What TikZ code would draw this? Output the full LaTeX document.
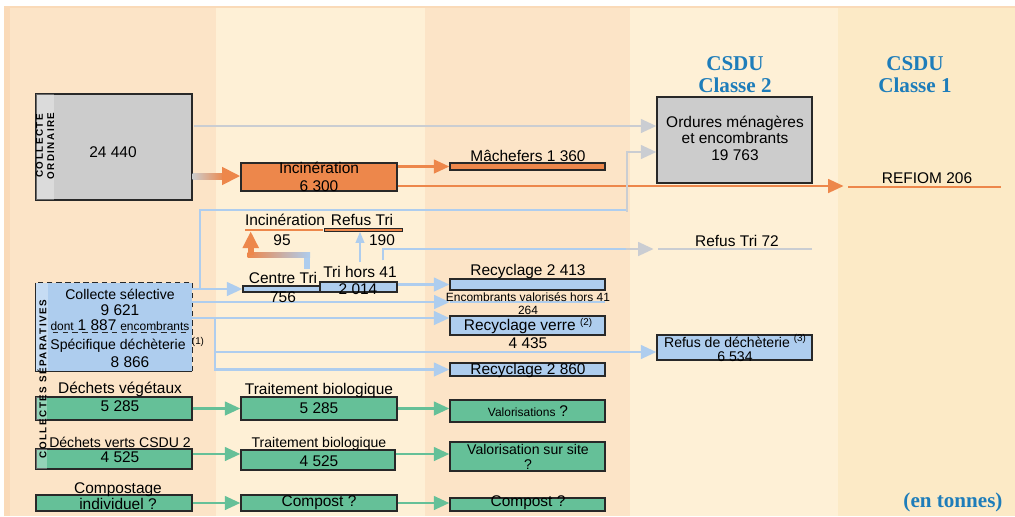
\documentclass[tikz,border=0pt]{standalone}
\usepackage{fontspec}
\setmainfont{Liberation Sans}
\newfontfamily\csdufont{Liberation Serif}
\newfontfamily\stripfont[LetterSpace=15]{Liberation Sans}
\usetikzlibrary{arrows.meta, calc}
\definecolor{bandA}{RGB}{252,228,199}
\definecolor{bandB}{RGB}{254,240,214}
\definecolor{bandC}{RGB}{252,234,198}
\definecolor{edgeband}{RGB}{250,218,184}
\definecolor{cgray}{RGB}{204,204,204}
\definecolor{lgray}{RGB}{202,205,210}
\definecolor{cblue}{RGB}{174,205,238}
\definecolor{corange}{RGB}{237,135,75}
\definecolor{cgreen}{RGB}{101,192,152}
\definecolor{ctitle}{RGB}{30,125,186}
\definecolor{cline}{RGB}{40,40,40}
\tikzset{
    box/.style={rectangle, draw=cline, line width=0.8pt, inner sep=0pt, minimum width=3.9cm},
    graybox/.style={box, fill=cgray},
    bluebox/.style={box, fill=cblue},
    greenbox/.style={box, fill=cgreen},
    orangebox/.style={box, fill=corange},
    txt/.style={inner sep=0pt, align=center, font=\fontsize{11}{12.8}\selectfont},
    smalltxt/.style={inner sep=0pt, align=center, font=\fontsize{10}{10}\selectfont},
    tinytxt/.style={inner sep=0pt, align=center, font=\fontsize{8.5}{9.3}\selectfont},
    csdutitle/.style={inner sep=0pt, align=center, text=ctitle, font=\csdufont\bfseries\fontsize{15}{15.6}\selectfont},
    flowtip/.style={-{Triangle[length=11pt, width=9.5pt]}},
    blueflow/.style={cblue, line width=2.1pt},
    grayflow/.style={lgray, line width=2.1pt},
    orangeflow/.style={corange, line width=2.1pt},
    greenflow/.style={cgreen, line width=2.1pt}
}
\begin{document}
\begin{tikzpicture}[x=0.025cm, y=-0.025cm]
        \useasboundingbox (0,0) rectangle (1015,516);
        % Background
        \fill[white] (0,0) rectangle (1015,516);
        \fill[bandA] (4,6) rectangle (216,516);
        \fill[edgeband] (4,6) rectangle (10,516);
        \fill[bandB] (216,6) rectangle (425,516);
        \fill[bandA] (425,6) rectangle (630,516);
        \fill[bandB] (630,6) rectangle (838,516);
        \fill[bandC] (838,6) rectangle (1015,516);
        \draw[edgeband, line width=1.2pt] (4,7) -- (1015,7);

        % Boxes
        \node[graybox, minimum height=2.65cm] (ordin) at (114,147) {};
        \node[orangebox, minimum height=0.7cm] (incin) at (319,177) {};
        \node[orangebox, minimum width=3.875cm, minimum height=0.175cm] (mach) at (527.5,166.5) {};
        \node[graybox, minimum width=3.875cm, minimum height=2.15cm] (ordures) at (734.5,140) {};
        \node[fill=corange, inner sep=0pt, minimum width=3.825cm, minimum height=0.07cm] (refiom) at (924.5,187) {};
        \node[fill=corange, inner sep=0pt, minimum width=1.95cm, minimum height=0.05cm] (inc95) at (284,230) {};
        \node[orangebox, line width=0.6pt, minimum width=1.95cm, minimum height=0.06cm] (refus190) at (363,230) {};
        \node[fill=lgray, inner sep=0pt, minimum width=3.85cm, minimum height=0.06cm] (refus72) at (735,249) {};
        \node[bluebox, minimum width=1.925cm, minimum height=0.15cm] (ctri) at (281.5,289) {};
        \node[bluebox, minimum width=1.925cm, minimum height=0.25cm] (trihors) at (358.5,287) {};
        \node[bluebox, minimum width=3.875cm, minimum height=0.275cm] (rec1) at (527.5,284.5) {};
        \node[fill=cblue, inner sep=0pt, minimum width=3.875cm, minimum height=0.05cm] (enc) at (527.5,302) {};
        \node[bluebox, minimum width=3.875cm, minimum height=0.475cm] (verre) at (527.5,325.5) {};
        \node[bluebox, minimum width=3.875cm, minimum height=0.325cm] (rec2) at (527.5,369.5) {};
        \node[bluebox, minimum width=3.875cm, minimum height=0.625cm] (refdech) at (734.5,347.5) {};
        \node[fill=cblue, inner sep=0pt, minimum width=3.9cm, minimum height=2.2cm] (cs) at (114,327) {};
        \node[greenbox, minimum height=0.575cm] (dveg) at (114,408.5) {};
        \node[greenbox, minimum height=0.575cm] (tb1) at (319,408.5) {};
        \node[greenbox, minimum width=3.875cm, minimum height=0.55cm] (valo) at (527.5,411) {};
        \node[greenbox, minimum height=0.5cm] (dvert) at (114,459) {};
        \node[greenbox, minimum width=3.85cm, minimum height=0.5cm] (tb2) at (318,460) {};
        \node[greenbox, minimum width=3.875cm, minimum height=0.725cm] (valsite) at (527.5,456.5) {};
        \node[greenbox, minimum height=0.4cm] (compind) at (114,503) {};
        \node[greenbox, minimum height=0.4cm] (compost1) at (319,503) {};
        \node[greenbox, minimum width=3.875cm, minimum height=0.325cm] (compost2) at (527.5,504.5) {};

        % Collecte selective border
        \draw[cline, line width=0.8pt, dash pattern=on 4pt off 2.5pt] (cs.south east) -- (cs.north east) -- (cs.north west);
        \draw[cline, line width=0.8pt] (cs.north west) -- (cs.south west) -- (cs.south east);
        \draw[cline, line width=0.7pt, dash pattern=on 4pt off 3pt] ($(cs.west)+(17,5)$) -- ($(cs.east)+(-3,5)$);

        % Side strips
        \fill[white, opacity=.3] ($(ordin.north west)+(0.6,0.6)$) rectangle ($(ordin.south west)+(19,-0.6)$);
        \fill[white, opacity=.3] ($(cs.north west)+(0.6,0.6)$) rectangle ($(cs.south west)+(12,-0.6)$);
        \fill[white, opacity=.3] ($(dveg.north west)+(0.6,0.6)$) rectangle ($(dveg.south west)+(12,-0.6)$);
        \fill[white, opacity=.3] ($(dvert.north west)+(0.6,0.6)$) rectangle ($(dvert.south west)+(12,-0.6)$);

        % Flows from collecte ordinaire
        \draw[grayflow, flowtip] ($(ordin.east)+(1,-21)$) -- ($(ordures.west)+(0,-14)$);
        \shade[left color=cgray, right color=corange] ($(ordin.east)+(0,26)$) rectangle ($(incin.west)+(-16,2)$);
        \draw[corange, line width=4.3pt, -{Triangle[length=13pt, width=12pt]}] ($(incin.west)+(-18,-1)$) -- ($(incin.west)+(0,-1)$);
        \draw[orangeflow, flowtip] (incin.east |- mach.west) -- (mach.west);
        \draw[orangeflow, flowtip] ($(incin.east)+(0,9)$) -- ($(refiom.west)+(-4,-1)$);

        % Flows from collecte selective
        \coordinate (bendA) at (200,210);
        \coordinate (bendB) at (627,210);
        \coordinate (bendC) at (627,249);
        \coordinate (bendD) at (215,318);
        \draw[blueflow, flowtip] (cs.east |- ctri.west) -- (ctri.west);
        \draw[blueflow] (bendA |- ctri.west) -- (bendA) -- (bendB);
        \draw[grayflow, flowtip] ($(bendB)+(0,1.5)$) |- ($(ordures.west)+(0,12)$);
        \fill[cblue] ($(ctri.north)+(22.5,-16)$) rectangle ($(ctri.north)+(28.5,-31)$);
        \shade[left color=corange, right color=cblue] ($(inc95.south west)+(3,21)$) rectangle ($(ctri.north)+(28.5,-28)$);
        \draw[corange, line width=4.3pt, -{Triangle[length=12pt, width=11pt]}] ($(inc95.south west)+(6,24)$) -- ($(inc95.south west)+(6,0)$);
        \draw[cblue, line width=1.6pt, -{Triangle[length=8pt, width=6pt]}] ($(trihors.north)+(1.5,-19)$) -- ($(trihors.north |- refus190.south)+(1.5,0)$);
        \draw[blueflow] ($(trihors.north)+(24.5,-21)$) |- (bendC);
        \draw[grayflow, flowtip] ($(bendC)+(-1,0)$) -- ($(refus72.west)+(-4,0)$);
        \draw[blueflow, flowtip] (trihors.east |- rec1.west) -- (rec1.west);
        \draw[blueflow, flowtip] ($(cs.east)+(0,-25)$) -- (enc.west);
        \draw[blueflow, flowtip] ($(cs.east)+(0,-9)$) -- ($(verre.west)+(0,-7.5)$);
        \draw[blueflow, flowtip] (bendD) |- (rec2.west);
        \draw[blueflow, flowtip] (bendD |- 0,352) -- (refdech.west |- 0,352);

        % Green flows
        \draw[greenflow, flowtip] (dveg.east) -- (tb1.west);
        \draw[greenflow, flowtip] (tb1.east) -- (tb1.east -| valo.west);
        \draw[greenflow, flowtip] ($(dvert.east)+(0,-5)$) -- ($(dvert.east -| tb2.west)+(0,-5)$);
        \draw[greenflow, flowtip] ($(tb2.east)+(0,-6)$) -- ($(tb2.east -| valsite.west)+(0,-6)$);
        \draw[greenflow, flowtip] (compind.east) -- (compost1.west);
        \draw[greenflow, flowtip] (compost1.east) -- (compost1.east -| compost2.west);

        % Titles
        \node[csdutitle] (csdu2) at (735,75) {CSDU\\Classe 2};
        \node[csdutitle] (csdu1) at (915,75) {CSDU\\Classe 1};
        \node[inner sep=0pt, text=ctitle, font=\csdufont\bfseries\fontsize{15}{16}\selectfont] (unit) at (953,502) {(en tonnes)};

        % Labels
        \node[rotate=90, inner sep=0pt, align=center, font=\stripfont\bfseries\fontsize{7}{8}\selectfont] (ordlbl) at (45,146) {COLLECTE\\ORDINAIRE};
        \node[rotate=90, inner sep=0pt, font=\stripfont\bfseries\fontsize{7}{8}\selectfont] (seplbl) at (42,379) {COLLECTES SÉPARATIVES};
        \node[txt] (ordval) at (113,152) {24 440};
        \node[txt] (incintxt) at (319,177) {Incinération\\6 300};
        \node[txt] (machtxt) at (528,156) {Mâchefers 1 360};
        \node[txt, font=\fontsize{11}{11.8}\selectfont] (ordurestxt) at (735,138) {Ordures ménagères\\et encombrants\\19 763};
        \node[txt] (refiomtxt) at (927,178) {REFIOM 206};
        \node[txt] (inc95lbl) at (285,220) {Incinération};
        \node[txt] (inc95val) at (282,240) {95};
        \node[txt] (refus190lbl) at (362,220) {Refus Tri};
        \node[txt] (refus190val) at (382,240) {190};
        \node[txt] (refus72lbl) at (737,241) {Refus Tri 72};
        \node[txt] (ctrilbl) at (283,278) {Centre Tri};
        \node[txt] (ctrival) at (283,297) {756};
        \node[txt] (trihorslbl) at (360,272) {Tri hors 41};
        \node[txt] (trihorsval) at (358,289) {2 014};
        \node[txt] (rec1lbl) at (528,271) {Recyclage 2 413};
        \node[tinytxt] (enclbl) at (528,303.5) {Encombrants valorisés hors 41\\264};
        \node[txt] (verrelbl) at (528,326) {Recyclage verre \raisebox{4pt}{\fontsize{7}{7}\selectfont(2)}};
        \node[txt] (verreval) at (528,343) {4 435};
        \node[txt] (rec2lbl) at (528,370) {Recyclage 2 860};
        \node[smalltxt] (refdechtxt) at (735,348) {Refus de déchèterie \raisebox{4pt}{\fontsize{7}{7}\selectfont(3)}\\6 534};
        \node[smalltxt] (cssel) at (120,294) {Collecte sélective};
        \node[txt] (csval) at (120,310) {9 621};
        \node[inner sep=0pt] (csdont) at (120,325) {{\fontsize{8.5}{9}\selectfont dont} {\fontsize{11}{12}\selectfont 1 887} {\fontsize{8.5}{9}\selectfont encombrants}};
        \node[smalltxt] (csspec) at (118,346) {Spécifique déchèterie};
        \node[inner sep=0pt, font=\fontsize{7}{7}\selectfont] (csnote) at (198,342) {(1)};
        \node[txt] (csspecval) at (130,362) {8 866};
        \node[txt] (dveglbl) at (120,389) {Déchets végétaux};
        \node[txt] (dvegval) at (120,406) {5 285};
        \node[txt] (tb1lbl) at (319,390) {Traitement biologique};
        \node[txt] (tb1val) at (319,408) {5 285};
        \node[inner sep=0pt] (valotxt) at (528,411) {{\fontsize{8.5}{9}\selectfont Valorisations} {\fontsize{11}{12}\selectfont ?}};
        \node[smalltxt] (dvertlbl) at (120,442) {Déchets verts CSDU 2};
        \node[txt] (dvertval) at (120,457) {4 525};
        \node[smalltxt] (tb2lbl) at (319,444) {Traitement biologique};
        \node[txt] (tb2val) at (319,461) {4 525};
        \node[smalltxt, font=\fontsize{10}{10.7}\selectfont] (valsitetxt) at (528,457) {Valorisation sur site\\?};
        \node[txt, font=\fontsize{11}{11.4}\selectfont] (compindtxt) at (118,496) {Compostage\\individuel ?};
        \node[txt] (compost1txt) at (319,503) {Compost ?};
        \node[txt] (compost2txt) at (528,503) {Compost ?};
    \end{tikzpicture}
\end{document}
